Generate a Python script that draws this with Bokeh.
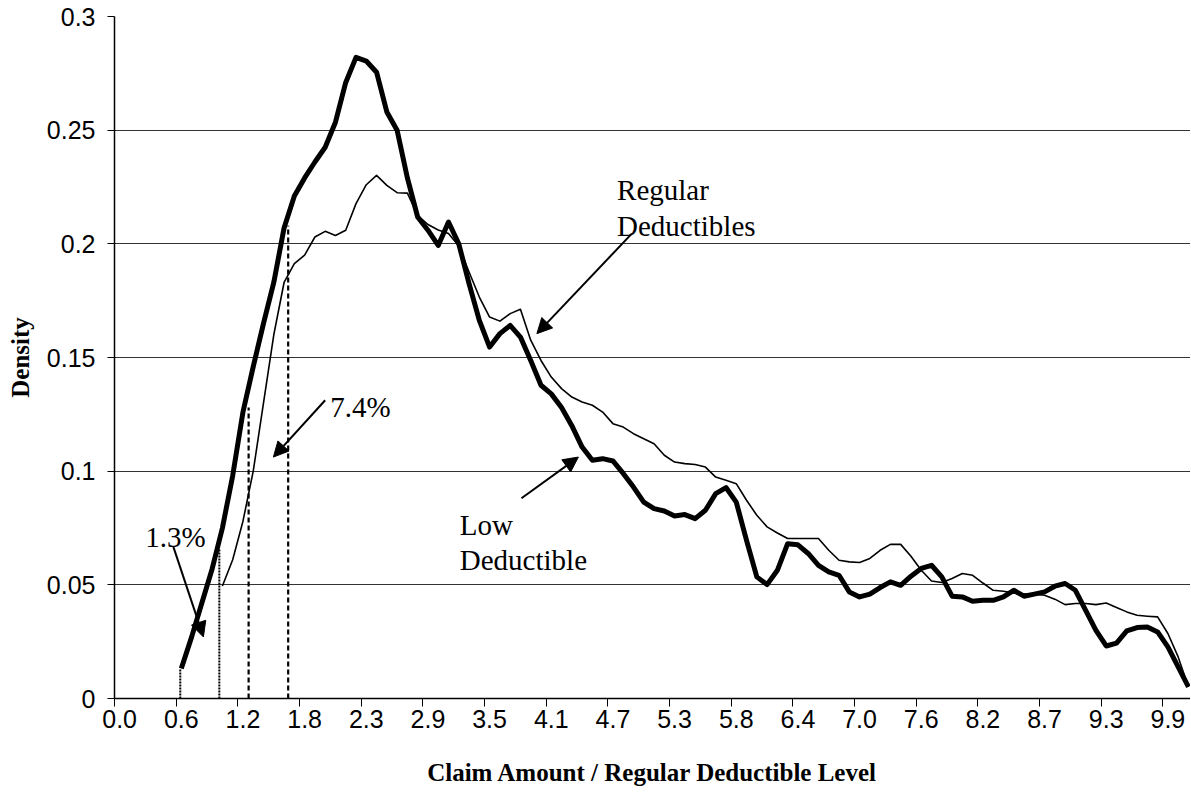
from bokeh.plotting import figure
from bokeh.models import Range1d, FixedTicker, Arrow, NormalHead
from bokeh.core.properties import value
from bokeh.embed import file_html
from bokeh.resources import INLINE
import numpy as np

# ---------------- data ----------------
x_tick_labels = ["0.0", "0.6", "1.2", "1.8", "2.3", "2.9", "3.5", "4.1", "4.7",
                 "5.3", "5.8", "6.4", "7.0", "7.6", "8.2", "8.7", "9.3", "9.9"]
y_tick_values = [0, 0.05, 0.1, 0.15, 0.2, 0.25, 0.3]
y_tick_labels = ["0", "0.05", "0.1", "0.15", "0.2", "0.25", "0.3"]

low_start = 6  # first category index of the Low Deductible series
low_deductible = [
    0.0132, 0.027, 0.042, 0.057, 0.075, 0.098, 0.126, 0.146, 0.165, 0.183,
    0.207, 0.221, 0.229, 0.236, 0.2425, 0.2535, 0.271, 0.282, 0.2804, 0.2755,
    0.258, 0.250, 0.229, 0.2118, 0.206, 0.1993, 0.2096, 0.200, 0.1825, 0.1663,
    0.1546, 0.1605, 0.1641, 0.159, 0.1487, 0.1378, 0.134, 0.128, 0.120, 0.1106,
    0.1048, 0.1055, 0.1045, 0.099, 0.093, 0.0864, 0.0835, 0.0825, 0.0803, 0.0809,
    0.0791, 0.0828, 0.0901, 0.0928, 0.0864, 0.0696, 0.0535, 0.0501, 0.0564, 0.0681,
    0.0676, 0.0638, 0.0586, 0.0557, 0.0542, 0.0469, 0.0447, 0.0459, 0.0488, 0.0513,
    0.0498, 0.0538, 0.0572, 0.0586, 0.0535, 0.045, 0.0447, 0.0428, 0.0432, 0.0432,
    0.0447, 0.0476, 0.045, 0.0459, 0.0469, 0.0494, 0.0506, 0.0476, 0.0388, 0.030,
    0.0231, 0.0244, 0.0297, 0.0312, 0.0315, 0.0293, 0.0227, 0.0139, 0.0051,
]

reg_start = 10  # first category index of the Regular Deductibles series
regular_deductibles = [
    0.0495, 0.061, 0.078, 0.100, 0.130, 0.160, 0.183, 0.1913, 0.195, 0.203,
    0.2055, 0.2037, 0.206, 0.2177, 0.226, 0.2301, 0.2257, 0.2225, 0.2223, 0.2125,
    0.2085, 0.2061, 0.2045, 0.199, 0.1876, 0.1766, 0.1678, 0.166, 0.1693, 0.1712,
    0.1576, 0.1487, 0.1414, 0.1363, 0.1326, 0.1304, 0.129, 0.126, 0.1209, 0.1194,
    0.1165, 0.1143, 0.1121, 0.107, 0.104, 0.1033, 0.1029, 0.1018, 0.0974, 0.096,
    0.0945, 0.0872, 0.0806, 0.0755, 0.0728, 0.0704, 0.0704, 0.0704, 0.0704, 0.0652,
    0.0608, 0.0601, 0.0598, 0.0616, 0.0652, 0.0678, 0.0678, 0.0626, 0.0564, 0.0517,
    0.051, 0.0528, 0.055, 0.0542, 0.0508, 0.0476, 0.0472, 0.0464, 0.0459, 0.0459,
    0.0454, 0.0437, 0.0413, 0.0418, 0.0418, 0.0413, 0.042, 0.040, 0.0381, 0.0366,
    0.0362, 0.0359, 0.0286, 0.0183, 0.0051,
]

# reference lines (category position, height)
dotted_x = [5.9, 9.7]
dotted_top = [0.0132, 0.066]
dashed_x = [12.55, 16.4]
dashed_top = [0.128, 0.208]

# annotation texts
ann_text = ["Regular", "Deductibles", "Low", "Deductible", "7.4%", "1.3%"]
ann_x = [48.4, 48.4, 33.1, 33.1, 20.5, 2.5]
ann_y = [0.2235, 0.2077, 0.0763, 0.0608, 0.1282, 0.0711]

# arrows: (x_start, y_start, x_end, y_end)
arrows = [
    (49.84, 0.2045, 40.6, 0.1605),
    (39.1, 0.0881, 44.64, 0.1062),
    (20.0, 0.1312, 14.96, 0.1062),
    (5.23, 0.0667, 8.15, 0.0271),
]

# ---------------- figure ----------------
p = figure(width=1190, height=790, output_backend="svg", toolbar_location=None,
           x_range=Range1d(-0.5, 104.2), y_range=Range1d(0, 0.3),
           min_border_left=114, min_border_right=0, min_border_top=16,
           min_border_bottom=92)
p.outline_line_color = None
p.background_fill_color = "white"
p.border_fill_color = "white"

x_low = np.arange(low_start, low_start + len(low_deductible))
x_reg = np.arange(reg_start, reg_start + len(regular_deductibles))

p.line(x_reg, regular_deductibles, line_width=1.6, color="black", line_join="round")
p.line(x_low, low_deductible, line_width=5, color="black", line_join="round")

p.segment(x0=dotted_x, y0=[0] * len(dotted_x), x1=dotted_x, y1=dotted_top,
          line_color="black", line_width=2, line_dash="2 1")
p.segment(x0=dashed_x, y0=[0] * len(dashed_x), x1=dashed_x, y1=dashed_top,
          line_color="black", line_width=2.2, line_dash="5 3")

p.text(x=ann_x, y=ann_y, text=ann_text, text_font=value("Liberation Serif"),
       text_font_size="29px", text_baseline="alphabetic", text_align="left",
       text_color="black")

for xs, ys, xe, ye in arrows:
    p.add_layout(Arrow(end=NormalHead(size=15, fill_color="black", line_color="black"),
                       x_start=xs, y_start=ys, x_end=xe, y_end=ye,
                       line_width=2, line_color="black"))

# x axis
label_pos = list(range(0, 6 * len(x_tick_labels), 6))
boundaries = [pos - 0.5 for pos in label_pos]
p.xaxis.ticker = FixedTicker(ticks=label_pos, minor_ticks=boundaries)
p.xaxis.major_label_overrides = {pos: lab for pos, lab in zip(label_pos, x_tick_labels)}
p.xaxis.major_tick_line_color = None
p.xaxis.minor_tick_out = 8
p.xaxis.minor_tick_in = 0
p.xaxis.minor_tick_line_color = "black"
p.xaxis.minor_tick_line_width = 1
p.xaxis.axis_label = "Claim Amount / Regular Deductible Level"

# y axis
p.yaxis.ticker = FixedTicker(ticks=y_tick_values)
p.yaxis.major_label_overrides = {v: l for v, l in zip(y_tick_values, y_tick_labels)}
p.yaxis.major_tick_out = 7
p.yaxis.major_tick_in = 0
p.yaxis.minor_tick_line_color = None
p.yaxis.axis_label = "Density"

for ax in (p.xaxis, p.yaxis):
    ax.axis_line_color = "black"
    ax.axis_line_width = 1.5
    ax.major_label_text_font = "Liberation Sans"
    ax.major_label_text_font_size = "25px"
    ax.major_label_text_color = "black"
    ax.axis_label_text_font = "Liberation Serif"
    ax.axis_label_text_font_style = "bold"
    ax.axis_label_text_font_size = "25px"
    ax.axis_label_text_color = "black"

p.xaxis.major_label_standoff = 3
p.xaxis.axis_label_standoff = 28
p.yaxis.major_label_standoff = 12
p.yaxis.axis_label_standoff = 10

p.xgrid.grid_line_color = None
p.ygrid.grid_line_color = "#333333"
p.ygrid.grid_line_width = 1

open("out.html", "w").write(file_html(p, INLINE))
